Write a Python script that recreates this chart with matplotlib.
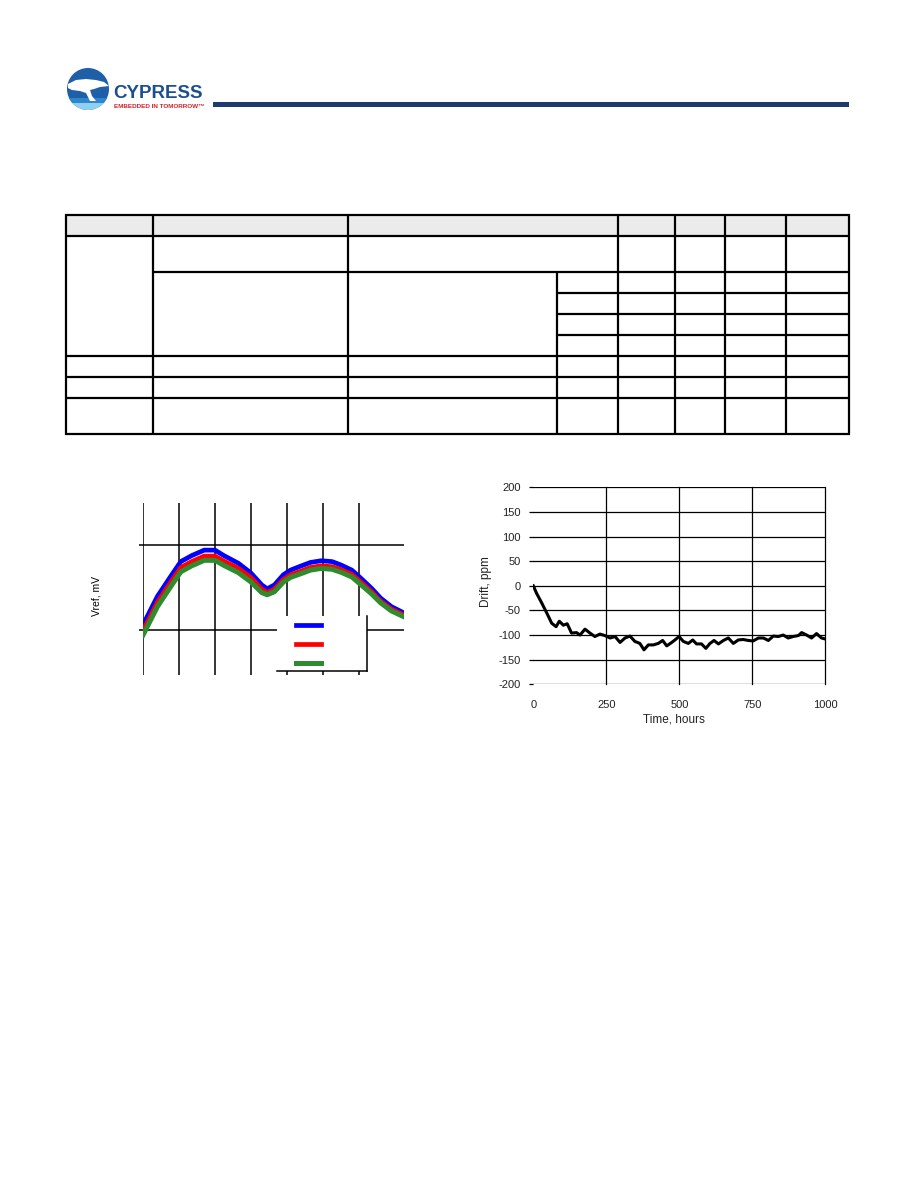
import matplotlib
matplotlib.use("Agg")
import matplotlib.pyplot as plt
from matplotlib.patches import Rectangle, Ellipse, Polygon
from matplotlib.lines import Line2D

plt.rcParams['font.family'] = ['Liberation Sans', 'DejaVu Sans']
plt.rcParams['axes.unicode_minus'] = False

# ---------------- data ----------------
# Left chart: Vref vs temperature (three supply curves)
temp_c = [-40, -32, -24, -19, -13, -6, 0, 5, 13, 20, 26, 29, 33, 38, 42,
          48, 53, 59, 65, 70, 76, 81, 87, 92, 98, 105]
vref_blue = [1022.13, 1022.80, 1023.31, 1023.62, 1023.76, 1023.89, 1023.89,
             1023.76, 1023.58, 1023.35, 1023.07, 1022.98, 1023.07, 1023.31,
             1023.42, 1023.52, 1023.60, 1023.64, 1023.62, 1023.54, 1023.42,
             1023.23, 1022.99, 1022.76, 1022.56, 1022.41]
vref_red = [1021.99, 1022.66, 1023.17, 1023.48, 1023.62, 1023.75, 1023.75,
            1023.63, 1023.46, 1023.24, 1022.97, 1022.89, 1022.97, 1023.20,
            1023.31, 1023.40, 1023.48, 1023.52, 1023.50, 1023.43, 1023.32,
            1023.14, 1022.91, 1022.69, 1022.50, 1022.36]
vref_green = [1021.89, 1022.56, 1023.07, 1023.38, 1023.52, 1023.65, 1023.65,
              1023.53, 1023.36, 1023.14, 1022.89, 1022.84, 1022.91, 1023.14,
              1023.25, 1023.34, 1023.42, 1023.46, 1023.44, 1023.37, 1023.26,
              1023.08, 1022.86, 1022.65, 1022.46, 1022.32]
left_xticks = [-40, -20, 0, 20, 40, 60, 80]
left_yticks = [1022, 1024]

# Right chart: drift vs time
time_h = [0, 11, 29, 46, 63, 78, 89, 103, 116, 131, 148, 160, 177, 194, 211,
          228, 245, 263, 280, 297, 314, 331, 348, 365, 379, 394, 411, 428,
          443, 457, 474, 485, 499, 514, 531, 546, 559, 576, 591, 605, 619,
          634, 651, 668, 685, 702, 719, 736, 753, 771, 788, 805, 822, 839,
          856, 873, 890, 908, 919, 936, 953, 970, 987, 1000]
drift_ppm = [0, -15, -35, -55, -76, -83, -72, -80, -77, -96, -95, -100, -88,
             -96, -103, -98, -101, -106, -103, -115, -106, -102, -113, -117,
             -130, -120, -120, -117, -111, -122, -115, -110, -103, -113, -117,
             -110, -118, -118, -127, -117, -111, -118, -111, -106, -117, -110,
             -109, -111, -112, -106, -106, -111, -102, -103, -100, -106, -103,
             -101, -95, -100, -106, -97, -106, -108]
right_xticks = [0, 250, 500, 750, 1000]
right_yticks = [-200, -150, -100, -50, 0, 50, 100, 150, 200]

W, H = 918, 1188
fig = plt.figure(figsize=(W / 100, H / 100), dpi=100)

def frac(x0, y0, x1, y1):
    return [x0 / W, 1 - y1 / H, (x1 - x0) / W, (y1 - y0) / H]

# ---------------- page overlay (logo, bar, table) ----------------
pg = fig.add_axes([0, 0, 1, 1], zorder=0)
pg.set_xlim(0, W)
pg.set_ylim(H, 0)
pg.axis('off')

# logo
circ = Ellipse((88, 89), 42, 42, facecolor='#1f5fa8', edgecolor='none')
pg.add_patch(circ)
for y0, y1, c in [(98, 103, '#2f86cc'), (103, 111, '#8fd0f0')]:
    r = Rectangle((60, y0), 60, y1 - y0, facecolor=c, edgecolor='none')
    pg.add_patch(r)
    r.set_clip_path(circ)
tree = Polygon([(68, 84), (76, 80), (86, 79), (96, 80), (104, 82), (109, 86),
                (100, 87), (94, 89), (90, 90), (92, 96), (96, 101), (90, 101),
                (86, 93), (80, 91), (72, 90), (68, 88)],
               facecolor='white', edgecolor='none')
pg.add_patch(tree)
tree.set_clip_path(circ)
pg.text(113, 98.5, 'CYPRESS', fontsize=13.5, fontweight='bold',
        color='#1d4f8f', ha='left', va='baseline')
pg.text(114, 107.5, 'EMBEDDED IN TOMORROW\u2122', fontsize=4.6,
        color='#d2232a', ha='left', va='baseline', fontweight='bold')
pg.add_patch(Rectangle((213, 101.5), 849 - 213, 5.5, facecolor='#1e3a70',
                       edgecolor='none'))

# table
pg.add_patch(Rectangle((66, 215), 849 - 66, 21, facecolor='#ebebeb',
                       edgecolor='none'))
tlw = 1.6
hsegs = [(215, 66, 849), (236, 66, 849), (272, 153, 849), (293, 557, 849),
         (314, 557, 849), (335, 557, 849), (356, 66, 849), (377, 66, 849),
         (398, 66, 849), (434, 66, 849)]
vsegs = [(66, 215, 434), (153, 215, 434), (348, 215, 434), (557, 272, 434),
         (618, 215, 434), (675, 215, 434), (725, 215, 434), (786, 215, 434),
         (849, 215, 434)]
for y, xa, xb in hsegs:
    pg.add_line(Line2D([xa - 1, xb + 1], [y, y], color='black', lw=tlw,
                       solid_capstyle='butt'))
for x, ya, yb in vsegs:
    pg.add_line(Line2D([x, x], [ya - 1, yb + 1], color='black', lw=tlw,
                       solid_capstyle='butt'))

# ---------------- left chart ----------------
axL = fig.add_axes(frac(143, 503, 404, 675), zorder=2)
axL.patch.set_alpha(0)
axL.set_xlim(-40, 105)
axL.set_ylim(1020.95, 1025.0)
axL.set_xticks(left_xticks)
axL.set_yticks(left_yticks)
axL.set_xticklabels([])
axL.set_yticklabels([])
for s in axL.spines.values():
    s.set_visible(False)
axL.tick_params(axis='x', length=0)
axL.tick_params(axis='y', length=3, width=1.1, direction='out', color='black')
axL.grid(True, color='black', lw=1.1)
axL.set_axisbelow(True)
lb, = axL.plot(temp_c, vref_blue, color='#0000ff', lw=3.4, zorder=2)
lr, = axL.plot(temp_c, vref_red, color='#ff0000', lw=3.4, zorder=2.1)
lg, = axL.plot(temp_c, vref_green, color='#2e8b2e', lw=3.6, zorder=2.2)
axL.set_ylabel('Vref, mV', fontsize=7.5)
axL.yaxis.set_label_coords(-0.16, 0.46)

# legend box (white with right/bottom border)
axL.add_patch(Rectangle((0.513, 0.023), 0.345, 0.320, transform=axL.transAxes,
                        facecolor='white', edgecolor='none', zorder=3))
axL.add_line(Line2D([0.858, 0.858], [0.023, 0.343], transform=axL.transAxes,
                    color='black', lw=1.1, zorder=3.1, clip_on=False))
axL.add_line(Line2D([0.513, 0.858], [0.023, 0.023], transform=axL.transAxes,
                    color='black', lw=1.1, zorder=3.1, clip_on=False))
leg = axL.legend([lb, lr, lg], [' ', ' ', ' '], loc='upper left',
                 bbox_to_anchor=(0.585, 0.313), frameon=False, fontsize=8,
                 borderpad=0, borderaxespad=0, handlelength=2.3,
                 handletextpad=0.3, labelspacing=0.78)
leg.set_zorder(4)

# ---------------- right chart ----------------
axR = fig.add_axes(frac(533.3, 487.3, 825.3, 684.3), zorder=2)
axR.set_xlim(0, 1000)
axR.set_ylim(-200, 200)
axR.set_xticks(right_xticks)
axR.set_yticks(right_yticks)
axR.tick_params(axis='both', labelsize=8, colors='#222222')
axR.tick_params(axis='x', length=0, pad=11)
axR.tick_params(axis='y', length=3, width=0.9, direction='out', pad=6,
                color='black')
axR.yaxis.grid(True, color='black', lw=0.9)
for t in right_xticks[1:]:
    axR.axvline(t, color='black', lw=0.9, zorder=1, clip_on=False)
for s in axR.spines.values():
    s.set_visible(False)
axR.set_axisbelow(True)
axR.plot(time_h, drift_ppm, color='black', lw=2.2, zorder=3)
axR.set_xlabel('Time, hours', fontsize=8.5, color='#222222')
axR.set_ylabel('Drift, ppm', fontsize=8.5, color='#222222')
axR.xaxis.set_label_coords(0.483, -0.15)
axR.yaxis.set_label_coords(-0.14, 0.52)

fig.savefig('out.png', dpi=100)
